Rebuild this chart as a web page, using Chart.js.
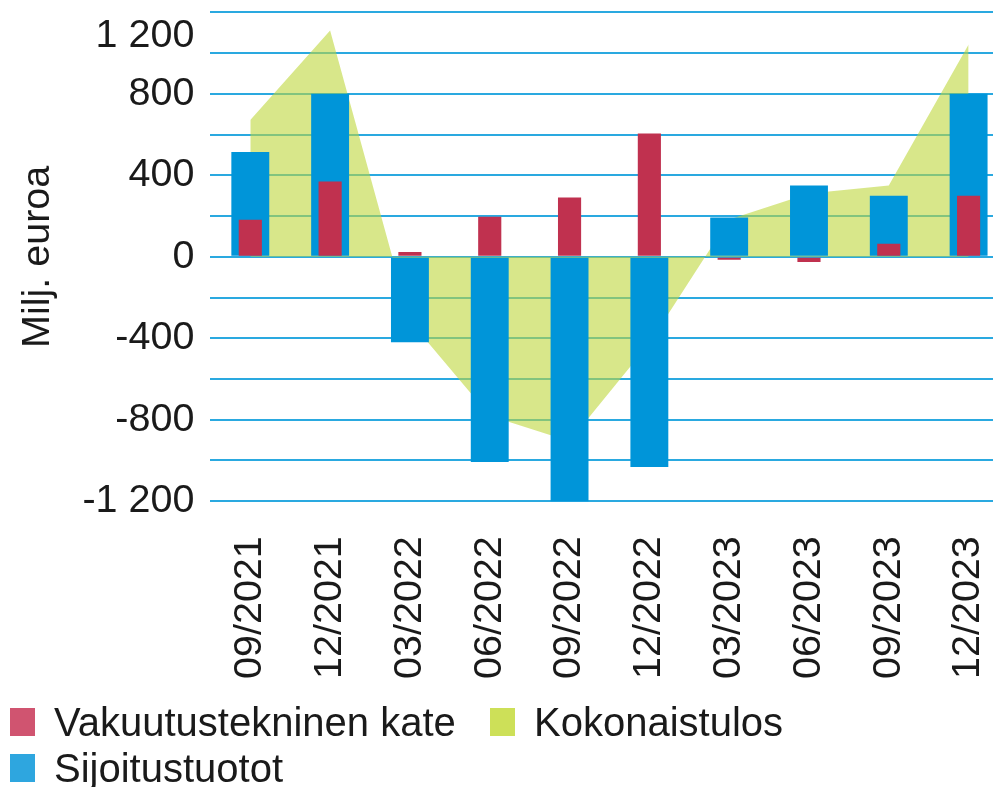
<!DOCTYPE html>
<html>
<head>
<meta charset="utf-8">
<script src="https://cdn.jsdelivr.net/npm/chart.js@4.4.1/dist/chart.umd.min.js"></script>
<style>
  html, body { margin: 0; padding: 0; background: #fff; overflow: hidden; width: 993px; height: 787px; }
  #wrap { position: absolute; left: 0; top: -51px; width: 1051px; height: 765px; }
  #legend { position: absolute; left: 10px; top: 699px; display: grid; grid-template-columns: 480px auto;
            font: 40px 'Liberation Sans', Arial, sans-serif; color: #1a1a1a; }
  .item { display: flex; align-items: center; height: 46px; white-space: nowrap; }
  .box { width: 25px; height: 28px; margin-right: 19px; }
</style>
</head>
<body>
<div id="wrap"><canvas id="chart"></canvas></div>
<div id="legend"></div>
<script>
// quarters on the x axis
const quarters = ['09/2021', '12/2021', '03/2022', '06/2022', '09/2022',
                  '12/2022', '03/2023', '06/2023', '09/2023', '12/2023'];

// values in million euros
const kate = [182, 370, 23, 197, 291, 605, -15, -25, 64, 300];
const sijoitus = [514, 800, -420, -1007, -1230, -1032, 193, 350, 300, 800];
const kokonais = [672, 1111, -315, -780, -905, -425, 183, 311, 350, 1042];

// y axis: grid every 200, labels every 400
const yMin = -1200;
const yMax = 1200;
const yStep = 200;
const yLabelStep = 400;

const legendColors = ['#d05470', '#cde058', '#2ea6df'];

const fontFamily = "'Liberation Sans', Arial, sans-serif";
Chart.defaults.font.family = fontFamily;
Chart.defaults.font.size = 39.5;
Chart.defaults.color = '#1a1a1a';

const fmt = (v) => String(v).replace(/\B(?=(\d{3})+(?!\d))/g, ' ');

const ctx = document.getElementById('chart');

const myChart = new Chart(ctx, {
    type: 'bar',
    data: {
        labels: quarters,
        datasets: [
            {
                label: 'Vakuutustekninen kate',
                data: kate,
                backgroundColor: '#c0314f',
                grouped: false,
                categoryPercentage: 1,
                barPercentage: 0.29,
                order: 1
            },
            {
                type: 'line',
                label: 'Kokonaistulos',
                data: kokonais,
                backgroundColor: 'rgba(190, 215, 60, 0.6)',
                borderWidth: 0,
                pointRadius: 0,
                tension: 0,
                fill: 'origin',
                order: 3
            },
            {
                label: 'Sijoitustuotot',
                data: sijoitus,
                backgroundColor: '#0095d9',
                grouped: false,
                categoryPercentage: 1,
                barPercentage: 0.475,
                order: 2
            }
        ]
    },
    options: {
        responsive: true,
        maintainAspectRatio: false,
        animation: false,
        layout: { padding: 0 },
        plugins: {
            legend: { display: false },
            tooltip: { enabled: false }
        },
        scales: {
            x: {
                grid: { display: false, drawTicks: false },
                border: { display: false },
                ticks: {
                    minRotation: 90,
                    maxRotation: 90,
                    autoSkip: false,
                    padding: 35
                }
            },
            y: {
                min: yMin,
                max: yMax,
                grid: { color: '#2aa9e0', lineWidth: 2, drawTicks: false },
                border: { display: false },
                ticks: {
                    stepSize: yStep,
                    autoSkip: false,
                    padding: 16,
                    callback: (v) => {
                        if (v % yLabelStep !== 0) return '';
                        // top label sits a little under its line, as in the original
                        if (v === yMax) return ['', fmt(v)];
                        return fmt(v);
                    }
                },
                title: {
                    display: true,
                    text: 'Milj. euroa',
                    padding: { top: 14, bottom: 5 }
                }
            }
        }
    }
});

// legend laid out like the original: two columns
const legend = document.getElementById('legend');
myChart.data.datasets.forEach((ds, i) => {
    const item = document.createElement('div');
    item.className = 'item';
    item.innerHTML = `<span class="box" style="background:${legendColors[i]}"></span>${ds.label}`;
    legend.appendChild(item);
});
</script>
</body>
</html>
